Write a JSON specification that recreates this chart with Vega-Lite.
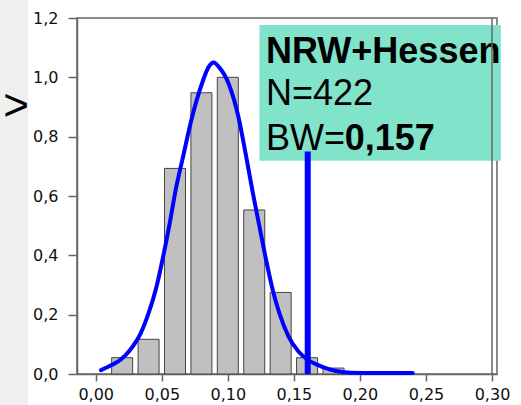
{
  "$schema": "https://vega.github.io/schema/vega-lite/v6.json",
  "width": 420,
  "height": 356,
  "autosize": "none",
  "padding": {"left": 77, "top": 18, "right": 24, "bottom": 31},
  "background": "white",
  "config": {
    "view": {"stroke": "#666666", "strokeWidth": 1.5},
    "axis": {"grid": false, "labelFont": "DejaVu Sans", "labelFontSize": 16, "labelColor": "#111111", "domainColor": "#666666", "tickColor": "#666666", "domainWidth": 1.5, "tickWidth": 1.5, "title": null}
  },
  "datasets": {
    "strip": [{"x": -0.09, "x2": -0.0511, "y": -0.2, "y2": 1.4}],
    "arrow": [{"x": -0.0505, "y": 0.9, "label": ">"}],
    "bars": [
      {"x": 0.02, "y": 0.055}, {"x": 0.04, "y": 0.117}, {"x": 0.06, "y": 0.693},
      {"x": 0.08, "y": 0.948}, {"x": 0.10, "y": 1.0}, {"x": 0.12, "y": 0.553},
      {"x": 0.14, "y": 0.275}, {"x": 0.16, "y": 0.055}, {"x": 0.18, "y": 0.02}
    ],
    "curve": [
      {"x": 0.004, "y": 0.013}, {"x": 0.012, "y": 0.030}, {"x": 0.019, "y": 0.049},
      {"x": 0.026, "y": 0.081}, {"x": 0.034, "y": 0.137}, {"x": 0.040, "y": 0.205},
      {"x": 0.046, "y": 0.294}, {"x": 0.051, "y": 0.395}, {"x": 0.056, "y": 0.508},
      {"x": 0.0605, "y": 0.62}, {"x": 0.066, "y": 0.73}, {"x": 0.073, "y": 0.867},
      {"x": 0.0805, "y": 0.98}, {"x": 0.0855, "y": 1.035}, {"x": 0.0894, "y": 1.05},
      {"x": 0.093, "y": 1.036}, {"x": 0.1005, "y": 0.98}, {"x": 0.108, "y": 0.867},
      {"x": 0.1136, "y": 0.74}, {"x": 0.119, "y": 0.609}, {"x": 0.124, "y": 0.496},
      {"x": 0.129, "y": 0.384}, {"x": 0.134, "y": 0.283}, {"x": 0.139, "y": 0.205},
      {"x": 0.146, "y": 0.126}, {"x": 0.1536, "y": 0.075}, {"x": 0.161, "y": 0.047},
      {"x": 0.171, "y": 0.025}, {"x": 0.181, "y": 0.011}, {"x": 0.193, "y": 0.0045},
      {"x": 0.21, "y": 0.003}, {"x": 0.24, "y": 0.003}
    ],
    "box": [{"x": 0.1239, "x2": 0.3067, "y": 0.719, "y2": 1.176}],
    "boldText": [{"x": 0.1289, "y": 1.048, "label": "NRW+Hessen"}, {"x": 0.1885, "y": 0.755, "label": "0,157"}],
    "regularText": [{"x": 0.1289, "y": 0.907, "label": "N=422"}, {"x": 0.1289, "y": 0.755, "label": "BW="}],
    "marker": [{"x": 0.1605, "y": 0, "y2": 0.75}],
    "frame": [{"x": 0.30, "y": 0, "y2": 1.2}]
  },
  "encoding": {
    "x": {
      "field": "x", "type": "quantitative",
      "scale": {"domain": [-0.0104, 0.30], "nice": false, "zero": false},
      "axis": {"values": [0, 0.05, 0.1, 0.15, 0.2, 0.25, 0.3], "labelExpr": "replace(format(datum.value, '.2f'), '.', ',')", "tickSize": 7, "labelPadding": 5}
    },
    "y": {
      "field": "y", "type": "quantitative",
      "scale": {"domain": [0, 1.2], "nice": false},
      "axis": {"values": [0, 0.2, 0.4, 0.6, 0.8, 1.0, 1.2], "labelExpr": "replace(format(datum.value, '.1f'), '.', ',')", "tickSize": 9, "labelPadding": 10}
    }
  },
  "layer": [
    {"data": {"name": "strip"}, "mark": {"type": "rect", "color": "#efefef"}, "encoding": {"x2": {"field": "x2"}, "y2": {"field": "y2"}}},
    {"data": {"name": "arrow"}, "mark": {"type": "text", "font": "Liberation Sans", "fontSize": 44, "align": "right", "baseline": "middle", "color": "#000000"}, "encoding": {"text": {"field": "label"}}},
    {"data": {"name": "bars"}, "mark": {"type": "bar", "orient": "vertical", "width": 21, "color": "#c0c0c0", "stroke": "#444444", "strokeWidth": 1}},
    {"data": {"name": "curve"}, "mark": {"type": "line", "color": "#0000ff", "strokeWidth": 4, "interpolate": "monotone", "strokeCap": "round"}},
    {"data": {"name": "box"}, "mark": {"type": "rect", "color": "#82e3cb"}, "encoding": {"x2": {"field": "x2"}, "y2": {"field": "y2"}}},
    {"data": {"name": "boldText"}, "mark": {"type": "text", "font": "Liberation Sans", "fontWeight": "bold", "fontSize": 36, "align": "left", "baseline": "alphabetic", "color": "#000000"}, "encoding": {"text": {"field": "label"}}},
    {"data": {"name": "regularText"}, "mark": {"type": "text", "font": "Liberation Sans", "fontSize": 36, "align": "left", "baseline": "alphabetic", "color": "#000000"}, "encoding": {"text": {"field": "label"}}},
    {"data": {"name": "marker"}, "mark": {"type": "rule", "color": "#0000ff", "strokeWidth": 6}, "encoding": {"y2": {"field": "y2"}}},
    {"data": {"name": "frame"}, "mark": {"type": "rule", "color": "#666666", "strokeWidth": 1.5}, "encoding": {"y2": {"field": "y2"}}}
  ]
}
